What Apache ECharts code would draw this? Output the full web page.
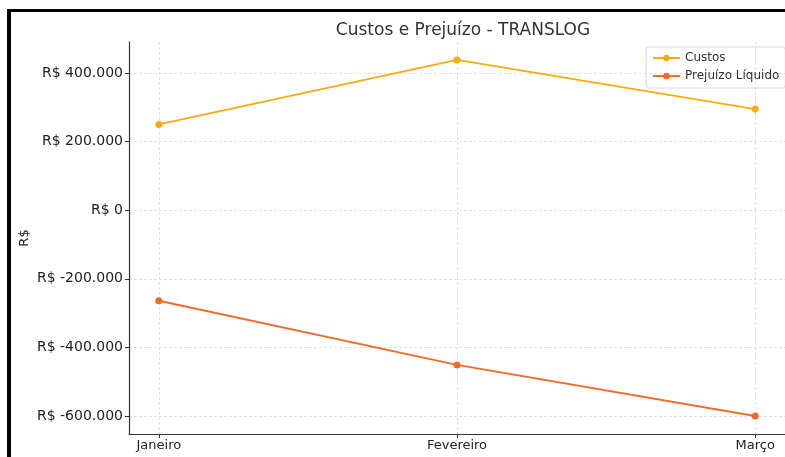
<!DOCTYPE html>
<html>
<head>
<meta charset="utf-8">
<script src="https://cdn.jsdelivr.net/npm/echarts@6/dist/echarts.min.js"></script>
<style>
  html, body { margin: 0; padding: 0; background: #fff; }
  #main { width: 785px; height: 457px; }
</style>
</head>
<body>
<div id="main"></div>
<script>
const months = ['Janeiro', 'Fevereiro', 'Março'];
const custos = [250000, 438000, 295000];
const prejuizo = [-264000, -451000, -600000];
const yTicks = [-600000, -400000, -200000, 0, 200000, 400000];

const fmt = v => 'R$ ' + Number(v).toLocaleString('pt-BR');
const font = 'DejaVu Sans';

const chartDom = document.getElementById('main');
const myChart = echarts.init(chartDom);

const option = {
  animation: false,
  backgroundColor: '#fff',
  textStyle: { fontFamily: font },
  title: {
    text: 'Custos e Prejuízo - TRANSLOG',
    left: 458, top: 17, textAlign: 'center',
    textStyle: { fontFamily: font, fontSize: 17, fontWeight: 'normal', color: '#333' }
  },
  legend: {
    orient: 'vertical',
    left: 646, top: 47,
    padding: [5, 6, 6, 6],
    itemGap: 6,
    itemWidth: 27, itemHeight: 8,
    borderColor: '#d6d6d6', borderWidth: 1, borderRadius: 3,
    textStyle: { fontFamily: font, fontSize: 12, color: '#333' },
    data: ['Custos', 'Prejuízo Líquido']
  },
  graphic: [
    { type: 'rect', shape: { x: 7, y: 9, width: 778, height: 3 }, style: { fill: '#000' } },
    { type: 'rect', shape: { x: 7, y: 9, width: 4, height: 448 }, style: { fill: '#000' } }
  ],
  grid: { left: 129, top: 42, width: 658, height: 392, containLabel: false },
  xAxis: {
    type: 'value',
    min: -0.1, max: 2.1,
    axisLine: { show: true, onZero: false, lineStyle: { color: '#333', width: 1.2 } },
    axisTick: { show: true, customValues: [0, 1, 2], length: 4, lineStyle: { color: '#333' } },
    axisLabel: {
      customValues: [0, 1, 2], margin: 5,
      fontFamily: font, fontSize: 13, color: '#222',
      formatter: v => months[Math.round(v)]
    },
    splitLine: { show: true, lineStyle: { color: '#d9d9d9', type: [3, 2], width: 0.8 } }
  },
  yAxis: {
    type: 'value',
    min: -652500, max: 490400,
    name: 'R$', nameLocation: 'middle', nameGap: 98, nameMoveOverlap: false,
    nameTextStyle: { fontFamily: font, fontSize: 13, color: '#222' },
    axisLine: { show: true, onZero: false, lineStyle: { color: '#333', width: 1.2 } },
    axisTick: { show: true, customValues: yTicks, length: 4, lineStyle: { color: '#333' } },
    axisLabel: {
      customValues: yTicks, margin: 6,
      fontFamily: font, fontSize: 14, color: '#222',
      formatter: fmt
    },
    splitLine: { show: true, lineStyle: { color: '#d9d9d9', type: [3, 2], width: 0.8 } }
  },
  series: [
    {
      name: 'Custos', type: 'line',
      data: custos.map((v, i) => [i, v]),
      color: '#F9AB0E',
      symbol: 'circle', symbolSize: 7,
      lineStyle: { width: 1.8 }
    },
    {
      name: 'Prejuízo Líquido', type: 'line',
      data: prejuizo.map((v, i) => [i, v]),
      color: '#EE6C27',
      symbol: 'circle', symbolSize: 7,
      lineStyle: { width: 1.8 }
    }
  ]
};
option && myChart.setOption(option);
</script>
</body>
</html>
